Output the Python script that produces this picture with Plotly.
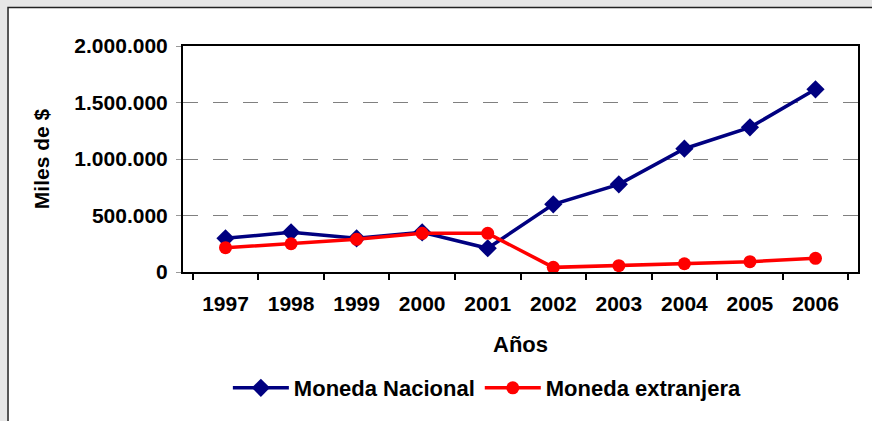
import plotly.graph_objects as go

years = ["1997", "1998", "1999", "2000", "2001", "2002", "2003", "2004", "2005", "2006"]
moneda_nacional = [298000, 351000, 298000, 351000, 210000, 599000, 776000, 1091000, 1280000, 1617000]
moneda_extranjera = [215000, 250000, 289000, 342000, 342000, 41000, 56000, 73000, 91000, 121000]
y_ticks = [0, 500000, 1000000, 1500000, 2000000]

FONT = "Liberation Sans, Arial, sans-serif"

fig = go.Figure()
fig.add_trace(go.Scatter(
    x=years, y=moneda_nacional, name="Moneda Nacional", mode="lines+markers",
    line=dict(color="#000080", width=3.5),
    marker=dict(symbol="diamond", size=14, color="#000080"),
))
fig.add_trace(go.Scatter(
    x=years, y=moneda_extranjera, name="Moneda extranjera", mode="lines+markers",
    line=dict(color="#FF0000", width=3.5),
    marker=dict(symbol="circle", size=13, color="#FF0000"),
))

W, H = 872, 421
L, R, T, B = 183, 12, 46, 149
pw = W - L - R
ph = H - T - B

def px_x(p):
    return (p - L) / pw

def px_y(p):
    return (H - B - p) / ph

# white chart panel with a dark border, on a light grey page
fig.add_shape(type="rect", xref="paper", yref="paper",
              x0=px_x(7.5), x1=px_x(W + 20), y0=px_y(H + 20), y1=px_y(7.5),
              fillcolor="white", line=dict(color="#222222", width=1.5), layer="below")

fig.update_layout(
    width=W, height=H,
    margin=dict(l=L, r=R, t=T, b=B),
    paper_bgcolor="#e6e6e6",
    plot_bgcolor="white",
    separators=",.",
    font=dict(family=FONT, size=20, color="black", weight="bold"),
    showlegend=True,
    legend=dict(orientation="h", x=px_x(228), xanchor="left", y=px_y(388), yanchor="middle",
                font=dict(family=FONT, size=22, color="black", weight="bold"),
                bgcolor="rgba(0,0,0,0)", itemwidth=56, tracegroupgap=0),
)

fig.update_xaxes(
    type="category", tickson="boundaries", ticks="outside", ticklen=6, tickcolor="black", tickwidth=1.5,
    showline=True, linecolor="black", linewidth=2, mirror=True,
    showgrid=False, ticklabelstandoff=12,
    tickfont=dict(family=FONT, size=21, color="black", weight="bold"),
    title=dict(text="Años", standoff=22, font=dict(family=FONT, size=22, color="black", weight="bold")),
)
fig.update_yaxes(
    range=[0, 2000000], tickvals=y_ticks, tickformat=",d",
    ticks="outside", ticklen=5, tickcolor="#999999", tickwidth=1,
    showline=True, linecolor="black", linewidth=2, mirror=True,
    showgrid=True, gridcolor="#808080", gridwidth=1, griddash="15px,15px",
    zeroline=False, ticklabelstandoff=4,
    tickfont=dict(family=FONT, size=21, color="black", weight="bold"),
    title=dict(text="Miles de $", standoff=19, font=dict(family=FONT, size=21, color="black", weight="bold")),
)

fig.write_html(
    "out.html",
    config={"responsive": False, "displayModeBar": False},
    post_script="document.body.style.margin='0'; document.body.style.overflow='hidden'; document.body.style.background='#e6e6e6';",
)
